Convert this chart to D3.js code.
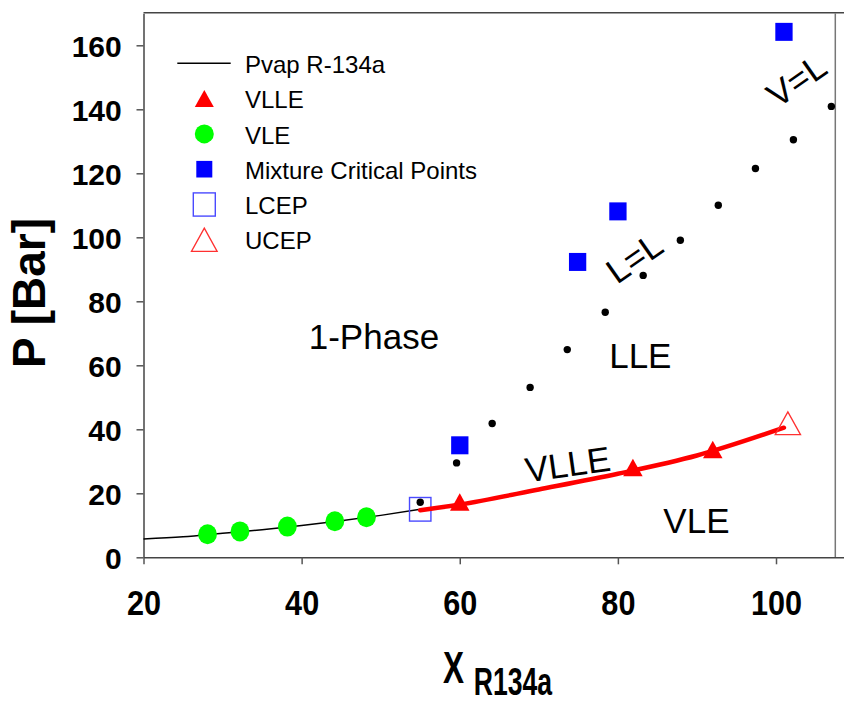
<!DOCTYPE html>
<html>
<head>
<meta charset="utf-8">
<script src="https://cdn.jsdelivr.net/npm/d3@7"></script>
<style>
  body { margin: 0; background: #fff; }
  svg { display: block; }
  text { font-family: "Liberation Sans", Arial, sans-serif; fill: #000; }
</style>
</head>
<body>
<svg id="chart" width="844" height="702"></svg>
<script>
// vapour pressure of pure R-134a
const pvapX = [20, 25, 30, 35, 40, 45, 50, 55]
const pvapY = [5.7, 6.4, 7.5, 8.6, 9.9, 11.4, 13.1, 15.0]

// VLLE line (red) and measured VLLE points
const vlleLineX = [55, 60, 70, 80, 90, 101]
const vlleLineY = [14.7, 16.5, 21.2, 26.1, 31.8, 40.5]
const vlleX = [60, 81.9, 92.0]
const vlleY = [17.3, 28.1, 33.7]

// VLE points
const vleX = [28.1, 32.2, 38.2, 44.2, 48.2]
const vleY = [7.2, 8.1, 9.6, 11.25, 12.5]

// mixture critical points
const critX = [60, 74.9, 80.0, 101.0]
const critY = [35.0, 92.3, 108.1, 164.2]

// critical line (small black dots)
const dotX = [55.0, 59.6, 64.1, 68.9, 73.6, 78.4, 83.2, 87.9, 92.7, 97.4, 102.2, 107.0]
const dotY = [17.2, 29.5, 41.8, 53.1, 64.9, 76.6, 88.1, 99.1, 110.0, 121.5, 130.5, 140.9]

const lcep = [55.0, 15.0]
const ucep = [101.5, 41.9]

const xTicks = [20, 40, 60, 80, 100]
const yTicks = [0, 20, 40, 60, 80, 100, 120, 140, 160]

const regionLabels = ["1-Phase", "LLE", "VLE", "VLLE", "L=L", "V=L"]
const regionX = [40.9, 78.9, 85.75, 68.5, 79.9, 100.2]
const regionY = [65.0, 59.1, 7.7, 23.4, 85.1, 140.2]
const regionAngle = [0, 0, 0, -8, -35, -35]

const legendLabels = ["Pvap R-134a", "VLLE", "VLE", "Mixture Critical Points", "LCEP", "UCEP"]

const zip = (a, b) => a.map((v, i) => [v, b[i]])

const svg = d3.select("#chart")

const xScale = d3.scaleLinear().domain([20, 108.6]).range([143.5, 844])
const yScale = d3.scaleLinear().domain([0, 170]).range([557.3, 13.3])

const tri = (w, h) => `M0,${-h / 2}L${w / 2},${h / 2}L${-w / 2},${h / 2}Z`

// frame
svg.append("line")
    .attr("x1", xScale(20)).attr("x2", 844)
    .attr("y1", yScale(170) - 0.6).attr("y2", yScale(170) - 0.6)
    .attr("stroke", "#444").attr("stroke-width", 1.5)
svg.append("line")
    .attr("x1", xScale(107.5)).attr("x2", xScale(107.5))
    .attr("y1", yScale(170)).attr("y2", yScale(0))
    .attr("stroke", "#777").attr("stroke-width", 1.5)

// axes
const x_axis = d3.axisBottom(xScale).tickValues(xTicks).tickSize(7).tickSizeOuter(0).tickPadding(25.7)
const y_axis = d3.axisLeft(yScale).tickValues(yTicks).tickSize(7).tickSizeOuter(0).tickPadding(14.8)

const gx = svg.append("g").attr("transform", `translate(0,${yScale(0)})`).call(x_axis)
gx.select(".domain").attr("stroke", "#444").attr("stroke-width", 1.5)
gx.selectAll(".tick line").attr("stroke", "#555").attr("stroke-width", 1.5)
gx.selectAll(".tick text")
    .attr("font-size", 35).attr("font-weight", "bold")
    .attr("font-family", "'Liberation Sans', Arial, sans-serif")
    .attr("transform", "scale(0.875,1)")
    .attr("fill", "#000")

const gy = svg.append("g").attr("transform", `translate(${xScale(20)},0)`).call(y_axis)
gy.select(".domain").attr("stroke", "#444").attr("stroke-width", 1.5)
gy.selectAll(".tick line").attr("stroke", "#555").attr("stroke-width", 1.5)
gy.selectAll(".tick text")
    .attr("font-size", 30).attr("font-weight", "bold")
    .attr("font-family", "'Liberation Sans', Arial, sans-serif")
    .attr("dy", "0.37em")
    .attr("fill", "#000")

// axis titles
svg.append("text")
    .attr("transform", "translate(45,293) rotate(-90)")
    .attr("text-anchor", "middle")
    .attr("font-size", 46).attr("font-weight", "bold")
    .text("P [Bar]")

const xt = svg.append("text")
    .attr("transform", "translate(443,683.3) scale(0.7,1)")
    .attr("font-weight", "bold")
xt.append("tspan").attr("font-size", 45).text("X")
xt.append("tspan").attr("font-size", 38).attr("dx", 14).attr("dy", 11.5).text("R134a")

// lines
const line = d3.line().x(d => xScale(d[0])).y(d => yScale(d[1])).curve(d3.curveMonotoneX)

svg.append("path")
    .attr("d", line(zip(pvapX, pvapY)))
    .attr("fill", "none").attr("stroke", "#000").attr("stroke-width", 1.5)

// black dots
svg.selectAll(".dot")
    .data(zip(dotX, dotY))
    .join("circle")
    .attr("class", "dot")
    .attr("cx", d => xScale(d[0])).attr("cy", d => yScale(d[1]))
    .attr("r", 3.7).attr("fill", "#000")

// VLE
svg.selectAll(".vle")
    .data(zip(vleX, vleY))
    .join("ellipse")
    .attr("class", "vle")
    .attr("cx", d => xScale(d[0])).attr("cy", d => yScale(d[1]))
    .attr("rx", 9.4).attr("ry", 10).attr("fill", "#00ff00")

// LCEP
svg.append("rect")
    .attr("x", xScale(lcep[0]) - 10.7).attr("y", yScale(lcep[1]) - 11.8)
    .attr("width", 21.4).attr("height", 23.6)
    .attr("fill", "none").attr("stroke", "#4a4aff").attr("stroke-width", 1.4)

svg.append("path")
    .attr("d", line(zip(vlleLineX, vlleLineY)))
    .attr("fill", "none").attr("stroke", "#ff0000").attr("stroke-width", 4.5)
    .attr("stroke-linecap", "round")

// VLLE triangles
svg.selectAll(".vlle")
    .data(zip(vlleX, vlleY))
    .join("path")
    .attr("class", "vlle")
    .attr("transform", d => `translate(${xScale(d[0])},${yScale(d[1])})`)
    .attr("d", tri(19.5, 17.5)).attr("fill", "#ff0000")

// UCEP
svg.append("path")
    .attr("transform", `translate(${xScale(ucep[0])},${yScale(ucep[1])})`)
    .attr("d", tri(25.3, 22.7))
    .attr("fill", "none").attr("stroke", "#ff3030").attr("stroke-width", 1.3)

// mixture critical points
svg.selectAll(".crit")
    .data(zip(critX, critY))
    .join("rect")
    .attr("class", "crit")
    .attr("x", d => xScale(d[0]) - 8.6).attr("y", d => yScale(d[1]) - 9)
    .attr("width", 17.3).attr("height", 18).attr("fill", "#0000ff")

// region labels
svg.selectAll(".region")
    .data(regionLabels)
    .join("text")
    .attr("class", "region")
    .attr("transform", (d, i) => `translate(${xScale(regionX[i])},${yScale(regionY[i])}) rotate(${regionAngle[i]})`)
    .attr("font-size", 35)
    .text(d => d)

// legend
const legendContainer = svg.append("g").attr("transform", "translate(204.3,63.3)")
const legends_items = legendContainer.selectAll("g")
    .data(legendLabels)
    .join("g")
    .attr("transform", (d, i) => `translate(0,${i * 35.3})`)

legends_items.append("text")
    .attr("x", 40.7).attr("y", 9.6)
    .attr("font-size", 24)
    .text(d => d)

legends_items.filter((d, i) => i === 0).append("line")
    .attr("x1", -27).attr("x2", 26.4).attr("stroke", "#000").attr("stroke-width", 1.5)
legends_items.filter((d, i) => i === 1).append("path")
    .attr("d", tri(19, 17)).attr("fill", "#ff0000")
legends_items.filter((d, i) => i === 2).append("circle")
    .attr("r", 9.5).attr("fill", "#00ff00")
legends_items.filter((d, i) => i === 3).append("rect")
    .attr("x", -8).attr("y", -8.3).attr("width", 16).attr("height", 16.6).attr("fill", "#0000ff")
legends_items.filter((d, i) => i === 4).append("rect")
    .attr("x", -11).attr("y", -11.6).attr("width", 22).attr("height", 23.2)
    .attr("fill", "none").attr("stroke", "#4a4aff").attr("stroke-width", 1.4)
legends_items.filter((d, i) => i === 5).append("path")
    .attr("d", tri(25.7, 23.3))
    .attr("fill", "none").attr("stroke", "#ff3030").attr("stroke-width", 1.3)
</script>
</body>
</html>
